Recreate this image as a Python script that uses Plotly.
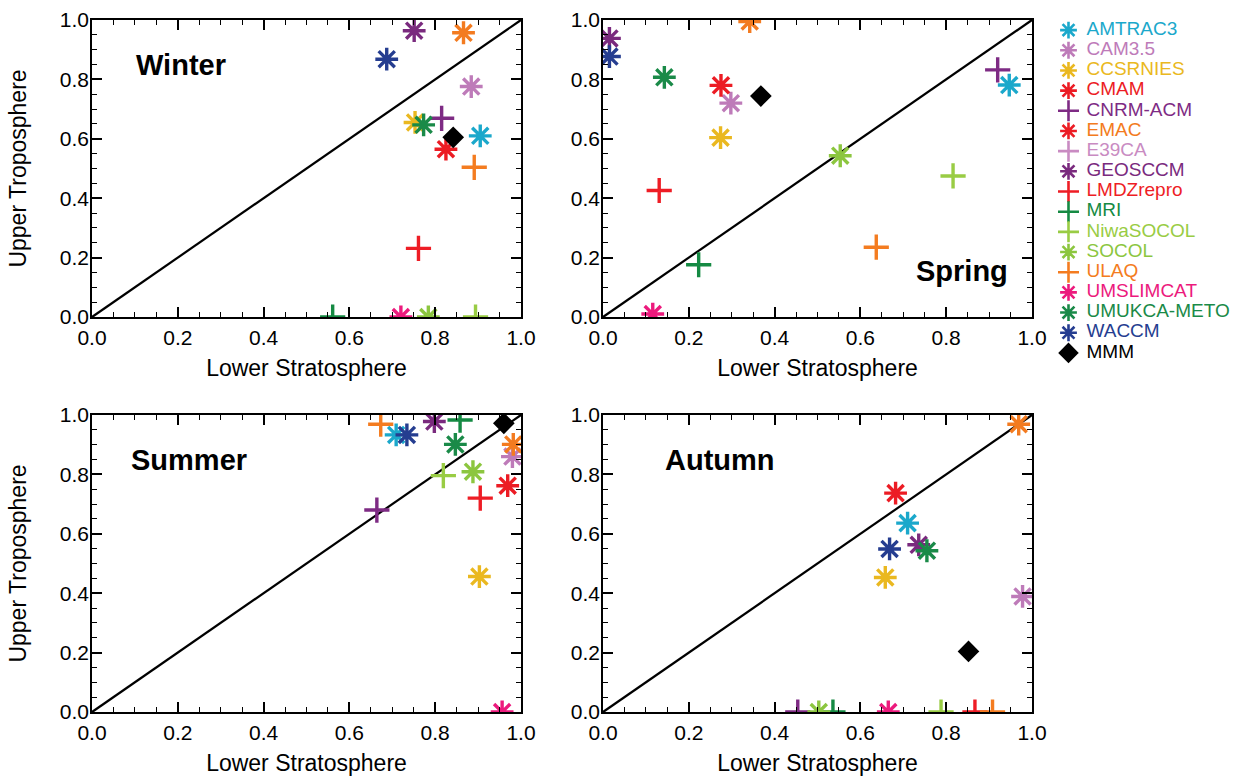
import plotly.graph_objects as go

# ---------------- data ----------------
MODELS = ["AMTRAC3", "CAM3.5", "CCSRNIES", "CMAM", "CNRM-ACM", "EMAC", "E39CA",
          "GEOSCCM", "LMDZrepro", "MRI", "NiwaSOCOL", "SOCOL", "ULAQ",
          "UMSLIMCAT", "UMUKCA-METO", "WACCM", "MMM"]
KIND = ["ast", "ast", "ast", "ast", "plus", "ast", "plus", "ast", "plus", "plus",
        "plus", "ast", "plus", "ast", "ast", "ast", "diamond"]
COLORS = ["#1BA8CB", "#BE7BB9", "#EAB820", "#EC1C24", "#7E2B84", "#F37B20", "#C98BC2",
          "#7A2A7E", "#EE1D25", "#158A43", "#99CC44", "#8CC63F", "#F47C20",
          "#EC1A7D", "#1A8A48", "#253D90", "#000000"]
LEGEND_MARKER_COLORS = ["#1BA8CB", "#BE7BB9", "#EAB820", "#EC1C24", "#7E2B84", "#EC1C24",
                        "#C98BC2", "#7A2A7E", "#EE1D25", "#158A43", "#99CC44", "#8CC63F",
                        "#F47C20", "#EC1A7D", "#1A8A48", "#253D90", "#000000"]

SEASONS = ["Winter", "Spring", "Summer", "Autumn"]

WINTER_LS = [0.905, 0.884, 0.753, 0.825, 0.815, 0.866, None, 0.751, 0.761, 0.561,
             0.894, 0.784, 0.891, 0.720, 0.773, 0.687, 0.842]
WINTER_UT = [0.610, 0.776, 0.655, 0.565, 0.669, 0.957, None, 0.964, 0.231, 0.0,
             0.0, 0.0, 0.504, 0.0, 0.647, 0.868, 0.605]
SPRING_LS = [0.947, 0.298, 0.274, 0.275, 0.920, 0.342, None, 0.015, 0.131, 0.223,
             0.816, 0.553, 0.637, 0.116, 0.143, 0.015, 0.368]
SPRING_UT = [0.781, 0.720, 0.604, 0.780, 0.832, 0.995, None, 0.938, 0.426, 0.176,
             0.475, 0.543, 0.235, 0.010, 0.807, 0.877, 0.744]
SUMMER_LS = [0.709, 0.980, 0.903, 0.969, 0.664, 0.982, None, 0.798, 0.905, 0.858,
             0.819, 0.888, 0.673, 0.956, 0.847, 0.734, 0.960]
SUMMER_UT = [0.933, 0.860, 0.456, 0.762, 0.680, 0.901, None, 0.978, 0.720, 0.983,
             0.796, 0.809, 0.969, 0.0, 0.901, 0.933, 0.972]
AUTUMN_LS = [0.710, 0.978, 0.658, 0.682, 0.454, 0.969, None, 0.736, 0.867, 0.536,
             0.788, 0.503, 0.908, 0.665, 0.755, 0.668, 0.852]
AUTUMN_UT = [0.636, 0.389, 0.453, 0.737, 0.0, 0.969, None, 0.563, 0.0, 0.0,
             0.0, 0.0, 0.0, 0.0, 0.543, 0.549, 0.204]

SEASON_DATA = [(WINTER_LS, WINTER_UT), (SPRING_LS, SPRING_UT),
               (SUMMER_LS, SUMMER_UT), (AUTUMN_LS, AUTUMN_UT)]

TICKS = [0.0, 0.2, 0.4, 0.6, 0.8, 1.0]
TICK_LABELS = ["0.0", "0.2", "0.4", "0.6", "0.8", "1.0"]

# ---------------- styling ----------------
W, H = 1235, 780
FONT = "Arial, Liberation Sans, Helvetica, sans-serif"
SYM = {"ast": "asterisk-open", "plus": "cross-thin-open", "diamond": "diamond"}
SIZE = {"ast": 19, "plus": 18, "diamond": 13}
LSIZE = {"ast": 14, "plus": 15, "diamond": 13}


def fx(p):
    return p / W


def fy(p):
    return 1 - p / H


X_DOM = [[fx(92), fx(521)], [fx(603), fx(1032)]]
Y_DOM = [[fy(317), fy(20)], [fy(712), fy(415)]]

# label positions (axis-domain fractions) per season
LABEL_POS = [(0.208, 0.848), (0.837, 0.155), (0.226, 0.848), (0.272, 0.848)]

fig = go.Figure()

for k, (ls, ut) in enumerate(SEASON_DATA):
    xs, ys, cols, syms, sizes, names = [], [], [], [], [], []
    for i, m in enumerate(MODELS):
        if ls[i] is None:
            continue
        xs.append(ls[i])
        ys.append(ut[i])
        cols.append(COLORS[i])
        syms.append(SYM[KIND[i]])
        sizes.append(SIZE[KIND[i]])
        names.append(m)
    suffix = "" if k == 0 else str(k + 1)
    fig.add_trace(go.Scatter(
        x=xs, y=ys, mode="markers", text=names, hoverinfo="text+x+y",
        xaxis="x" + suffix, yaxis="y" + suffix, showlegend=False,
        marker=dict(symbol=syms, size=sizes, color=cols, opacity=1,
                    line=dict(width=3.4, color=cols)),
    ))

# custom legend drawn on its own hidden axis
leg_y = [-r for r in range(len(MODELS))]
fig.add_trace(go.Scatter(
    x=[0.075] * len(MODELS), y=leg_y, mode="markers",
    xaxis="x5", yaxis="y5", showlegend=False, hoverinfo="skip", cliponaxis=False,
    marker=dict(symbol=[SYM[k] for k in KIND], size=[LSIZE[k] for k in KIND],
                color=LEGEND_MARKER_COLORS, opacity=1,
                line=dict(width=2.6, color=LEGEND_MARKER_COLORS)),
))
fig.add_trace(go.Scatter(
    x=[0.175] * len(MODELS), y=leg_y, mode="text",
    text=MODELS, textposition="middle right",
    textfont=dict(family=FONT, size=19, color=COLORS),
    xaxis="x5", yaxis="y5", showlegend=False, hoverinfo="skip", cliponaxis=False,
))

axis_common = dict(
    range=[0, 1], showgrid=False, zeroline=False, showline=True, linecolor="black",
    linewidth=1.5, mirror="ticks", ticks="inside", ticklen=10, tickwidth=1.5,
    tickcolor="black", tickvals=TICKS, ticktext=TICK_LABELS, automargin=False,
    tickfont=dict(family=FONT, size=21, color="black"),
    minor=dict(dtick=0.05, tick0=0, ticks="inside", ticklen=5, tickwidth=1.2,
               tickcolor="black"),
)

layout = dict(
    width=W, height=H, margin=dict(l=0, r=0, t=0, b=0),
    paper_bgcolor="white", plot_bgcolor="white",
    font=dict(family=FONT, color="black"),
    shapes=[], annotations=[],
)

for k in range(4):
    r, c = divmod(k, 2)
    suffix = "" if k == 0 else str(k + 1)
    xa = dict(axis_common, domain=X_DOM[c], anchor="y" + suffix, ticklabelstandoff=1,
              title=dict(text="Lower Stratosphere", font=dict(size=23), standoff=12))
    ya = dict(axis_common, domain=Y_DOM[r], anchor="x" + suffix, ticklabelstandoff=-3)
    if c == 0:
        ya["title"] = dict(text="Upper Troposphere", font=dict(size=23), standoff=27)
    layout["xaxis" + suffix] = xa
    layout["yaxis" + suffix] = ya
    layout["shapes"].append(dict(
        type="line", xref="x%s domain" % suffix, yref="y%s domain" % suffix,
        x0=0, y0=0, x1=1, y1=1, line=dict(color="black", width=2.2), layer="below"))
    lx, ly = LABEL_POS[k]
    layout["annotations"].append(dict(
        text="<b>%s</b>" % SEASONS[k], xref="x%s domain" % suffix,
        yref="y%s domain" % suffix, x=lx, y=ly, xanchor="center", yanchor="middle",
        showarrow=False, font=dict(family=FONT, size=29, color="black")))

layout["xaxis5"] = dict(domain=[fx(1055), 1], range=[0, 1], visible=False,
                        anchor="y5", fixedrange=True)
layout["yaxis5"] = dict(domain=[fy(363), fy(20)], range=[-16.5, 0.5], visible=False,
                        anchor="x5", fixedrange=True)

fig.update_layout(**layout)
fig.write_html("out.html", config={"displayModeBar": False},
               post_script="document.body.style.margin='0';document.body.style.overflow='hidden';")
